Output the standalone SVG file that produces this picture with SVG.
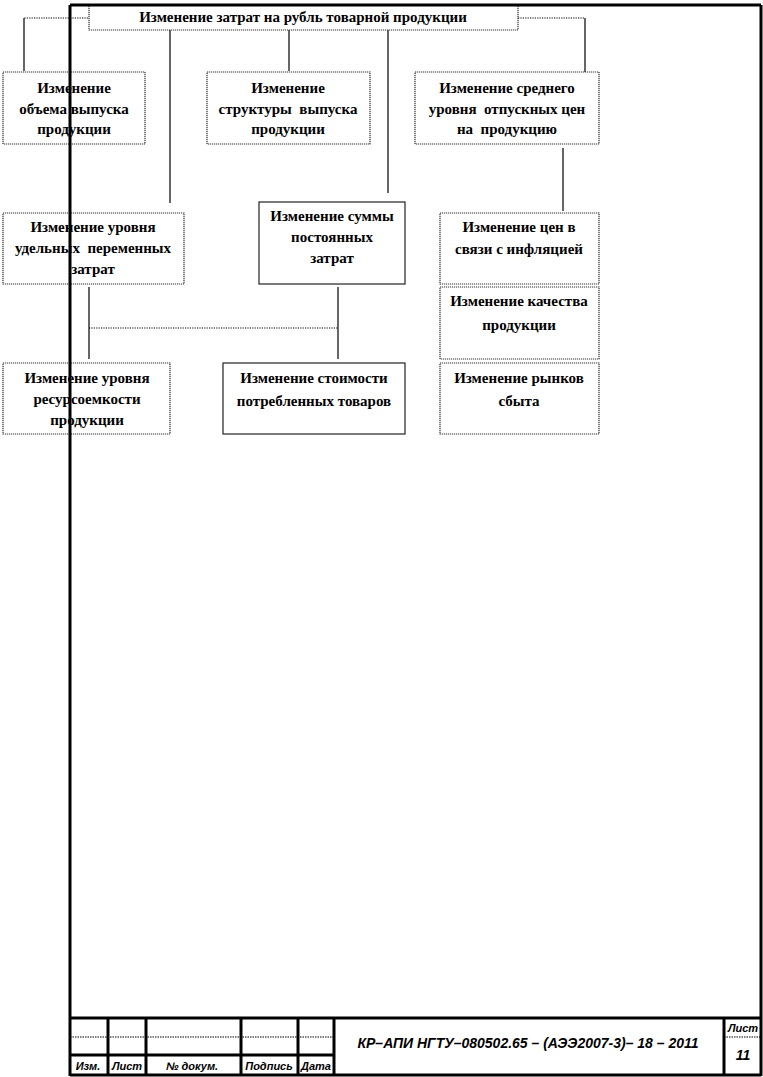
<svg xmlns="http://www.w3.org/2000/svg" width="763" height="1077" viewBox="0 0 763 1077">
<style>
.bx{fill:#fff;stroke:#333;stroke-width:1.2;stroke-dasharray:1.2,0.8}
.bs{fill:#fff;stroke:#222;stroke-width:1.2}
.t{font-family:"Liberation Serif","Times New Roman",serif;font-weight:bold;font-size:15px;fill:#000;text-anchor:middle;white-space:pre}
.ln{stroke:#000;stroke-width:1.2;fill:none}
.dl{stroke:#000;stroke-width:1.2;stroke-dasharray:1.2,1.2;fill:none}
.fr{stroke:#000;stroke-width:3;fill:none}
.fd{stroke:#000;stroke-width:1.2;stroke-dasharray:1.5,1;fill:none}
.s{font-family:"Liberation Sans",Arial,sans-serif;font-style:italic;font-weight:bold;fill:#000;text-anchor:middle}
</style>
<rect width="763" height="1077" fill="#fff"/>
<g id="connectors">
<polyline class="dl" points="88,18 24,18"/>
<line class="ln" x1="24" y1="18" x2="24" y2="71"/>
<polyline class="dl" points="518,18 585,18"/>
<line class="ln" x1="585" y1="18" x2="585" y2="72"/>
<line class="ln" x1="289" y1="30" x2="289" y2="71"/>
<line class="ln" x1="170" y1="30" x2="170" y2="203"/>
<line class="ln" x1="388" y1="30" x2="388" y2="193"/>
<line class="ln" x1="563" y1="148" x2="563" y2="211"/>
<line class="ln" x1="89" y1="287" x2="89" y2="359"/>
<line class="ln" x1="338" y1="287" x2="338" y2="359"/>
<line class="dl" x1="89" y1="328" x2="338" y2="328"/>
</g>
<g id="n-top"><rect class="bx" x="89" y="5" width="429" height="25"/><text class="t" x="303" y="22">Изменение затрат на рубль товарной продукции</text></g>
<g id="n-volume"><rect class="bx" x="3" y="72" width="142" height="72"/><text class="t" x="74" y="93">Изменение</text><text class="t" x="74" y="114">объема выпуска</text><text class="t" x="74" y="134">продукции</text></g>
<g id="n-structure"><rect class="bx" x="207" y="72" width="163" height="72"/><text class="t" x="288" y="93">Изменение</text><text class="t" x="288" y="114">структуры  выпуска</text><text class="t" x="288" y="134">продукции</text></g>
<g id="n-price"><rect class="bx" x="415" y="72" width="184" height="72"/><text class="t" x="507" y="93">Изменение среднего</text><text class="t" x="507" y="114">уровня  отпускных цен</text><text class="t" x="507" y="134">на  продукцию</text></g>
<g id="n-variable"><rect class="bx" x="3" y="213" width="181" height="71"/><text class="t" x="93" y="232">Изменение уровня</text><text class="t" x="93" y="253">удельных  переменных</text><text class="t" x="93" y="274">затрат</text></g>
<g id="n-fixed"><rect class="bs" x="259" y="202" width="146" height="82"/><text class="t" x="332" y="221">Изменение суммы</text><text class="t" x="332" y="242">постоянных</text><text class="t" x="332" y="263">затрат</text></g>
<g id="n-inflation"><rect class="bx" x="440" y="213" width="159" height="71"/><text class="t" x="519" y="232">Изменение цен в</text><text class="t" x="519" y="254">связи с инфляцией</text></g>
<g id="n-quality"><rect class="bx" x="440" y="287" width="159" height="72"/><text class="t" x="519" y="306">Изменение качества</text><text class="t" x="519" y="330">продукции</text></g>
<g id="n-resource"><rect class="bx" x="3" y="363" width="167" height="71"/><text class="t" x="87" y="383">Изменение уровня</text><text class="t" x="87" y="404">ресурсоемкости</text><text class="t" x="87" y="425">продукции</text></g>
<g id="n-goods"><rect class="bs" x="223" y="363" width="182" height="71"/><text class="t" x="314" y="383">Изменение стоимости</text><text class="t" x="314" y="406">потребленных товаров</text></g>
<g id="n-markets"><rect class="bx" x="440" y="363" width="159" height="71"/><text class="t" x="519" y="383">Изменение рынков</text><text class="t" x="519" y="406">сбыта</text></g>
<g id="frame">
<line class="fr" x1="70" y1="5" x2="70" y2="1076"/>
<line class="fr" x1="70" y1="5" x2="761" y2="5"/>
<line class="fr" x1="761" y1="5" x2="761" y2="1076"/>
<line class="fr" x1="70" y1="1075" x2="761" y2="1075"/>
<line class="fr" x1="70" y1="1018" x2="761" y2="1018"/>
<line class="fd" x1="70" y1="1037" x2="334" y2="1037"/>
<line class="fr" x1="70" y1="1055" x2="334" y2="1055"/>
<line class="fr" x1="108" y1="1018" x2="108" y2="1076"/>
<line class="fr" x1="146" y1="1018" x2="146" y2="1076"/>
<line class="fr" x1="241" y1="1018" x2="241" y2="1076"/>
<line class="fr" x1="298" y1="1018" x2="298" y2="1076"/>
<line class="fr" x1="334" y1="1018" x2="334" y2="1076"/>
<line class="fr" x1="724" y1="1018" x2="724" y2="1076"/>
<line class="fd" x1="724" y1="1037" x2="761" y2="1037"/>
<text class="s" x="88" y="1070" font-size="11">Изм.</text>
<text class="s" x="127" y="1070" font-size="11">Лист</text>
<text class="s" x="192" y="1070" font-size="11">№ докум.</text>
<text class="s" x="269" y="1070" font-size="11">Подпись</text>
<text class="s" x="316" y="1070" font-size="11">Дата</text>
<text class="s" x="528" y="1048" font-size="14">КР–АПИ НГТУ–080502.65 – (АЭЭ2007-3)– 18 – 2011</text>
<text class="s" x="743" y="1032" font-size="11">Лист</text>
<text class="s" x="743" y="1060" font-size="14">11</text>
</g>
</svg>
